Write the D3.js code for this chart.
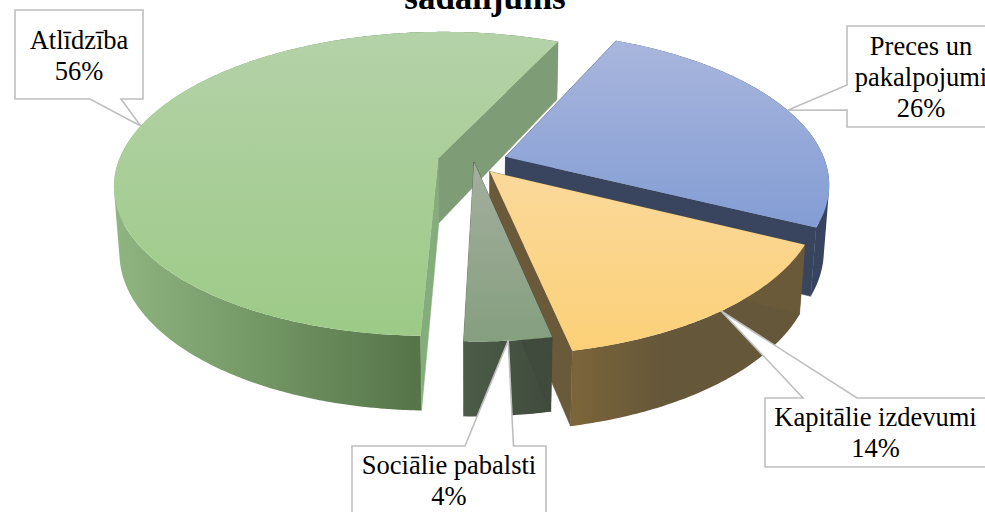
<!DOCTYPE html>
<html>
<head>
<meta charset="utf-8">
<script src="https://cdn.jsdelivr.net/npm/d3@7"></script>
<style>
    html, body { margin: 0; padding: 0; background: #fff; }
    svg { display: block; }
    text { font-family: "Liberation Serif", serif; fill: #000; }
</style>
</head>
<body>
<div id="chart"></div>
<script>
var categories = ["Preces un pakalpojumi", "Kapitālie izdevumi", "Sociālie pabalsti", "Atlīdzība"];
// slice sizes, the printed labels are rounded
var shares = [25.5, 14.4, 3.7, 56.4];
var shareLabels = ["26%", "14%", "4%", "56%"];
var titleText = "sadalījums";

var width = 985, height = 512;

// perspective of the pie
var cx = 474, cy = 162, R = 320, Ry = 149, H = 66, k = 0.17, g = 0.015;
var startAngle = 24.6 * Math.PI / 180;

// one entry per slice, same order as categories
var explode = [0.105, 0.08, 0, 0.115];
var looks = [
    {top: ["#a9b6dd", "#839dd4"], wall: ["#3a4664", "#37435f"], wallStop: 1, cutStart: "#39455f", cutEnd: "#39455f"},
    {top: ["#fbd99b", "#fbd077"], wall: ["#7c6539", "#65573a"], wallStop: 0.4, cutStart: "#6a5a3a", cutEnd: "#6a5a3a"},
    {top: ["#a4ae9e", "#859f7f"], wall: ["#4c5c48", "#404a3d"], wallStop: 1, cutStart: "#404a3d", cutEnd: "#4c5c48"},
    {top: ["#b4d2a8", "#9dca87"], wall: ["#8fb580", "#567649"], wallStop: 0.68, cutStart: "#85ad7b", cutEnd: "#7e9c76"}
];
var callouts = [
    {x: 847, y: 26, w: 150, h: 101, side: "left", a: 85, b: 110, tx: 921, base: [55, 86, 117], breakAt: 9},
    {x: 765, y: 398, w: 230, h: 69, side: "top", a: 803, b: 857, tx: 875.5, base: [426, 457]},
    {x: 352, y: 446, w: 194, h: 80, side: "top", a: 465, b: 513.5, tx: 449, base: [474, 505]},
    {x: 15, y: 10, w: 128, h: 89, side: "bottom", a: 90, b: 121, tx: 79, base: [49, 80]}
];

var svg = d3.select("#chart").append("svg").attr("width", width).attr("height", height);
var defs = svg.append("defs");

function gradient(id, colors, horizontal, stop) {
    var grad = defs.append("linearGradient").attr("id", id)
            .attr("x1", 0).attr("y1", 0)
            .attr("x2", horizontal ? 1 : 0).attr("y2", horizontal ? 0 : 1);
    grad.append("stop").attr("offset", 0).attr("stop-color", colors[0]);
    grad.append("stop").attr("offset", stop).attr("stop-color", colors[1]);
}

var pie = d3.pie().sort(null).startAngle(startAngle).endAngle(startAngle + 2 * Math.PI);
var slices = pie(shares);

// r is in pie radii, z is 0 on the top face and 1 on the bottom face
function project(d, a, r, z) {
    var mid = (d.startAngle + d.endAngle) / 2;
    var e = explode[d.index];
    var u = e * Math.sin(mid) + r * Math.sin(a);
    var v = -e * Math.cos(mid) - r * Math.cos(a);
    var w = 1 - k * v + g * z;
    return [cx + R * u / w, cy + (Ry * v + H * z) / w];
}

function arcPoints(d, z) {
    var n = Math.ceil((d.endAngle - d.startAngle) / 0.01);
    return d3.range(n + 1).map(function (i) {
        return project(d, d.startAngle + (d.endAngle - d.startAngle) * i / n, 1, z);
    });
}

var line = d3.line();

function closed(points) {
    return line(points) + "Z";
}

function cutWall(d, a) {
    return closed([project(d, a, 0, 0), project(d, a, 1, 0), project(d, a, 1, 1), project(d, a, 0, 1)]);
}

// small quads with the same winding, otherwise the fold at the pie's edge leaves a hole
function outerWall(d) {
    var top = arcPoints(d, 0), bottom = arcPoints(d, 1), path = "";
    d3.range(top.length - 1).forEach(function (i) {
        var quad = [top[i], top[i + 1], bottom[i + 1], bottom[i]];
        if (d3.polygonArea(quad) < 0) quad.reverse();
        path += closed(quad);
    });
    return path;
}

// painter order: green at the back, grey last
var order = [3, 0, 1, 2];
order.forEach(function (i) {
    var d = slices[i], look = looks[i];
    gradient("top" + i, look.top, false, 1);
    gradient("wall" + i, look.wall, true, look.wallStop);
    var group = svg.append("g").attr("class", "slice");
    group.append("path")
            .attr("d", outerWall(d))
            .attr("fill", "url(#wall" + i + ")");
    group.append("path")
            .attr("d", cutWall(d, d.startAngle))
            .attr("fill", look.cutStart)
            .attr("stroke", look.cutStart)
            .attr("stroke-width", 0.5);
    group.append("path")
            .attr("d", cutWall(d, d.endAngle))
            .attr("fill", look.cutEnd)
            .attr("stroke", look.cutEnd)
            .attr("stroke-width", 0.5);
    group.append("path")
            .attr("d", closed([project(d, 0, 0, 0)].concat(arcPoints(d, 0))))
            .attr("fill", "url(#top" + i + ")");
});

// callouts point at the middle of each slice's rim
callouts.forEach(function (c, i) {
    var d = slices[i];
    var tip = project(d, (d.startAngle + d.endAngle) / 2, 1, 0);
    var x2 = c.x + c.w, y2 = c.y + c.h, pts;
    if (c.side == "left") {
        pts = [[c.x, c.y], [x2, c.y], [x2, y2], [c.x, y2], [c.x, c.b], tip, [c.x, c.a]];
    } else if (c.side == "top") {
        pts = [[c.x, c.y], [c.a, c.y], tip, [c.b, c.y], [x2, c.y], [x2, y2], [c.x, y2]];
    } else {
        pts = [[c.x, c.y], [x2, c.y], [x2, y2], [c.b, y2], tip, [c.a, y2], [c.x, y2]];
    }
    svg.append("path")
            .attr("d", closed(pts))
            .attr("fill", "#fff")
            .attr("stroke", "#bfbfbf")
            .attr("stroke-width", 1.6);

    var name = categories[i];
    var lines = c.breakAt ? [name.slice(0, c.breakAt), name.slice(c.breakAt + 1)] : [name];
    lines.push(shareLabels[i]);
    lines.forEach(function (t, j) {
        svg.append("text")
                .attr("x", c.tx)
                .attr("y", c.base[j])
                .attr("text-anchor", "middle")
                .attr("font-size", 26.5)
                .text(t);
    });
});

svg.append("text")
        .attr("x", 485)
        .attr("y", 9)
        .attr("text-anchor", "middle")
        .attr("font-size", 35)
        .attr("font-weight", "bold")
        .text(titleText);
</script>
</body>
</html>
